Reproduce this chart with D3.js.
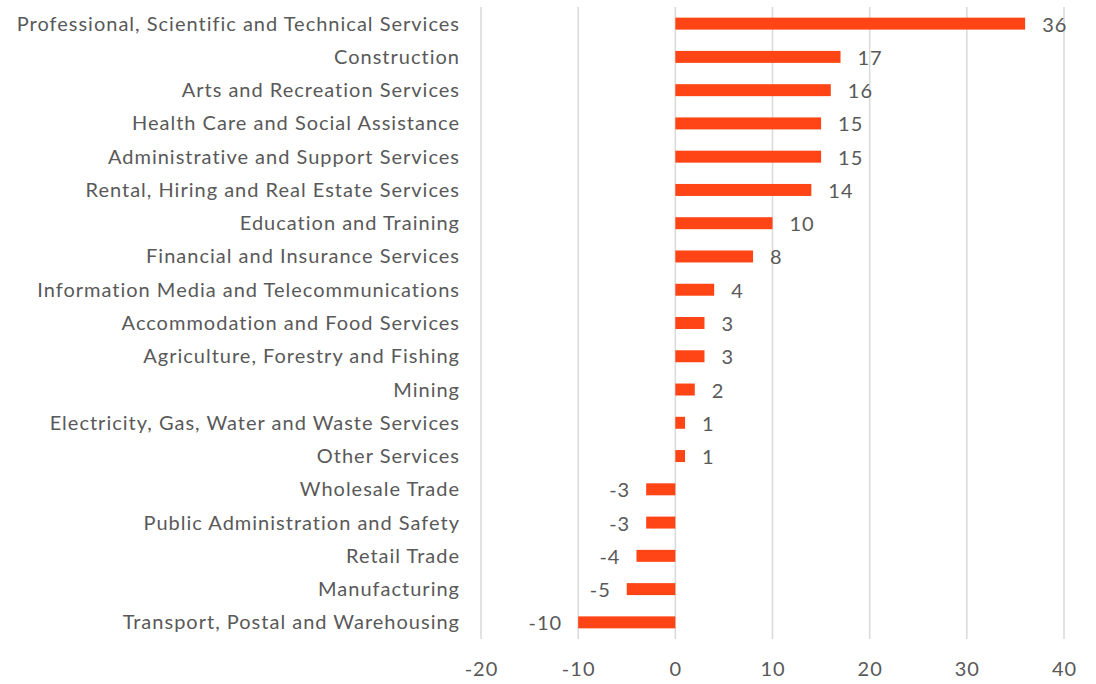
<!DOCTYPE html>
<html>
<head>
<meta charset="utf-8">
<script src="https://cdn.jsdelivr.net/npm/d3@7"></script>
<style>
  body { margin: 0; background: #fff; }
  text { font-family: Lato, "Open Sans", sans-serif; fill: #595959; letter-spacing: 1px; }
</style>
</head>
<body>
<div class="chart"></div>
<script>
// data
var categories = [
  "Professional, Scientific and Technical Services",
  "Construction",
  "Arts and Recreation Services",
  "Health Care and Social Assistance",
  "Administrative and Support Services",
  "Rental, Hiring and Real Estate Services",
  "Education and Training",
  "Financial and Insurance Services",
  "Information Media and Telecommunications",
  "Accommodation and Food Services",
  "Agriculture, Forestry and Fishing",
  "Mining",
  "Electricity, Gas, Water and Waste Services",
  "Other Services",
  "Wholesale Trade",
  "Public Administration and Safety",
  "Retail Trade",
  "Manufacturing",
  "Transport, Postal and Warehousing"
];
var values = [36, 17, 16, 15, 15, 14, 10, 8, 4, 3, 3, 2, 1, 1, -3, -3, -4, -5, -10];
var xTicks = [-20, -10, 0, 10, 20, 30, 40];

var svgWidth = 1096;
var svgHeight = 684;

var margin = { top: 7, right: 32, bottom: 45, left: 481 };
var width = svgWidth - margin.left - margin.right;
var height = svgHeight - margin.top - margin.bottom;

var svg = d3.select(".chart")
  .append("svg")
  .attr("width", svgWidth)
  .attr("height", svgHeight);

var chartGroup = svg.append("g")
  .attr("transform", `translate(${margin.left}, ${margin.top})`);

var xScale = d3.scaleLinear()
  .domain([-20, 40])
  .range([0, width]);

var yScale = d3.scaleBand()
  .domain(categories)
  .range([0, height])
  .paddingInner(0.64)
  .paddingOuter(0.32);

// gridlines
chartGroup.selectAll(".grid")
  .data(xTicks)
  .enter()
  .append("line")
  .attr("x1", d => xScale(d))
  .attr("x2", d => xScale(d))
  .attr("y1", 0)
  .attr("y2", height)
  .attr("stroke", "#d9d9d9")
  .attr("stroke-width", 1.5);

// x axis labels (plain hyphen for minus, like the original)
var bottomAxis = d3.axisBottom(xScale)
  .tickValues(xTicks)
  .tickFormat(d => String(d))
  .tickSize(0)
  .tickPadding(23);
var xAxis = chartGroup.append("g")
  .attr("transform", `translate(0, ${height})`)
  .call(bottomAxis);
xAxis.select(".domain").remove();
xAxis.selectAll("text")
  .style("font-size", "20px")
  .attr("fill", "#595959");

// category labels
chartGroup.selectAll(".cat")
  .data(categories)
  .enter()
  .append("text")
  .attr("x", -21)
  .attr("y", d => yScale(d) + yScale.bandwidth() / 2)
  .attr("dy", "0.35em")
  .attr("text-anchor", "end")
  .style("font-size", "20px")
  .text(d => d);

// bars
chartGroup.selectAll(".bar")
  .data(values)
  .enter()
  .append("rect")
  .attr("x", d => xScale(Math.min(0, d)))
  .attr("y", (d, i) => yScale(categories[i]))
  .attr("width", d => Math.abs(xScale(d) - xScale(0)))
  .attr("height", yScale.bandwidth())
  .attr("fill", "#ff4516");

// value labels
chartGroup.selectAll(".val")
  .data(values)
  .enter()
  .append("text")
  .attr("x", d => d >= 0 ? xScale(d) + 17 : xScale(d) - 16)
  .attr("y", (d, i) => yScale(categories[i]) + yScale.bandwidth() / 2)
  .attr("dy", "0.4em")
  .attr("text-anchor", d => d >= 0 ? "start" : "end")
  .style("font-size", "20px")
  .text(d => d);
</script>
</body>
</html>
